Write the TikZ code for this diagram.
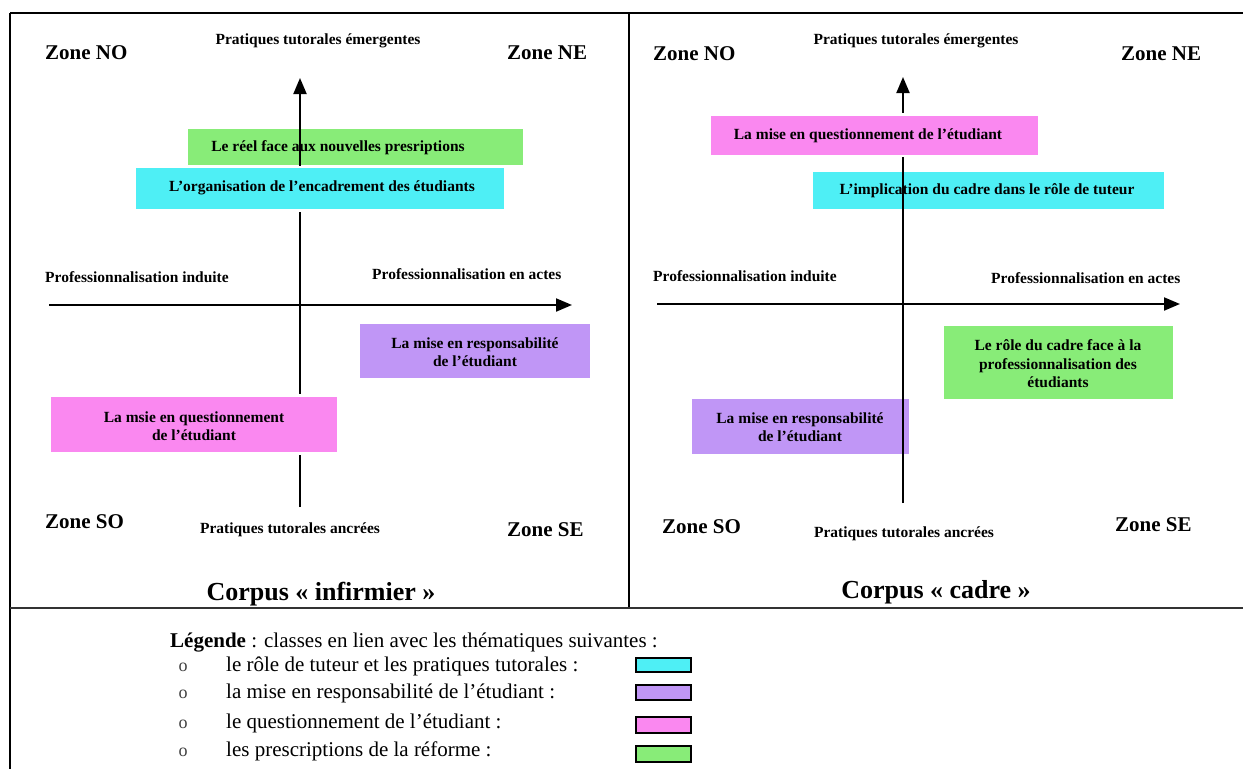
\documentclass[tikz,border=0pt]{standalone}
\usepackage{fontspec}
\setmainfont{Liberation Serif}
\usetikzlibrary{arrows.meta}
\definecolor{cgreen}{HTML}{88EC78}
\definecolor{ccyan}{HTML}{4EEFF5}
\definecolor{cpurple}{HTML}{C096F6}
\definecolor{cpink}{HTML}{FA88F0}
\begin{document}
\begin{tikzpicture}[x=1pt,y=-1pt,
  zone/.style={font=\fontsize{21}{24}\selectfont\bfseries, inner sep=0pt, anchor=base west},
  axlabel/.style={font=\fontsize{15.5}{18}\selectfont\bfseries, inner sep=0pt},
  boxtext/.style={font=\fontsize{15.5}{18.5}\selectfont\bfseries, inner sep=0pt, align=center},
  corpus/.style={font=\fontsize{26}{30}\selectfont\bfseries, inner sep=0pt, anchor=base},
  axis/.style={line width=2pt, -{Triangle[length=16pt,width=13pt]}},
  legtext/.style={font=\fontsize{21}{24}\selectfont, inner sep=0pt, anchor=base west},
  bullet/.style={font=\fontsize{18}{20}\selectfont, text=black!75, inner sep=0pt, anchor=base},
  swatch/.style={draw=black, line width=2pt},
  frame/.style={line width=2.5pt, black}]
\useasboundingbox (0,0) rectangle (1243,769);
\fill[white] (0,0) rectangle (1243,769);
% frame
\draw[frame] (10,13) -- (1243,13);
\draw[frame] (10,13) -- (10,769);
\draw[line width=1.5pt] (629,13) -- (629,608);
\draw[line width=2pt, black!80] (10,608) -- (1243,608);

% ---------- left panel ----------
\node[zone] (lno) at (45,59) {Zone NO};
\node[zone] (lne) at (507,59) {Zone NE};
\node[zone] (lso) at (45,528) {Zone SO};
\node[zone] (lse) at (507,536) {Zone SE};
\node[axlabel, anchor=base] (ltop) at (318,44) {Pratiques tutorales émergentes};
\node[axlabel, anchor=base] (lbot) at (290,533) {Pratiques tutorales ancrées};
\node[axlabel, anchor=base west] (lleft) at (45,282) {Professionnalisation induite};
\node[axlabel, anchor=base west] (lright) at (372,279) {Professionnalisation en actes};

\fill[cgreen] (188,129) rectangle (523,165);
\coordinate (lvb) at (300,507);
\coordinate (lvt) at (300,78);
\coordinate (lhl) at (49,305);
\coordinate (lhr) at (572,305);
\draw[axis] (lvb) -- (lvt);
\draw[axis] (lhl) -- (lhr);
\node[boxtext] (lg) at (338,148) {Le réel face aux nouvelles presriptions};
\fill[white] (133,166) rectangle (507,212);
\fill[ccyan] (136,168) rectangle (504,209);
\node[boxtext] (lc) at (322,188) {L’organisation de l’encadrement des étudiants};
\fill[cpurple] (360,324) rectangle (590,378);
\node[boxtext] (lp) at (475,352) {La mise en responsabilité\\de l’étudiant};
\fill[white] (48,394) rectangle (340,455);
\fill[cpink] (51,397) rectangle (337,452);
\node[boxtext] (lk) at (194,426) {La msie en questionnement\\de l’étudiant};
\node[corpus] (lcorp) at (321,600) {Corpus « infirmier »};

% ---------- right panel ----------
\node[zone] (rno) at (653,60) {Zone NO};
\node[zone] (rne) at (1121,60) {Zone NE};
\node[zone] (rso) at (662,533) {Zone SO};
\node[zone] (rse) at (1115,531) {Zone SE};
\node[axlabel, anchor=base] (rtop) at (916,44) {Pratiques tutorales émergentes};
\node[axlabel, anchor=base] (rbot) at (904,537) {Pratiques tutorales ancrées};
\node[axlabel, anchor=base west] (rleft) at (653,281) {Professionnalisation induite};
\node[axlabel, anchor=base west] (rright) at (991,283) {Professionnalisation en actes};

\fill[ccyan] (813,172) rectangle (1164,209);
\fill[cpurple] (692,399) rectangle (909,454);
\fill[cgreen] (944,326) rectangle (1173,399);
\coordinate (rvb) at (903,503);
\coordinate (rvt) at (903,77);
\coordinate (rhl) at (657,304);
\coordinate (rhr) at (1180,304);
\draw[axis] (rvb) -- (rvt);
\draw[axis] (rhl) -- (rhr);
\node[boxtext] (rc) at (987,191) {L’implication du cadre dans le rôle de tuteur};
\node[boxtext] (rp) at (800,427) {La mise en responsabilité\\de l’étudiant};
\node[boxtext] (rg) at (1058,364) {Le rôle du cadre face à la\\professionnalisation des\\étudiants};
\fill[white] (708,113) rectangle (1041,157);
\fill[cpink] (711,116) rectangle (1038,155);
\node[boxtext] (rk) at (868,136) {La mise en questionnement de l’étudiant};
\node[corpus] (rcorp) at (936,598) {Corpus « cadre »};

% ---------- legend ----------
\node[legtext] (leg) at (170,647) {\textbf{Légende} : classes en lien avec les thématiques suivantes :};
\foreach \yy/\txt [count=\i] in {671/{le rôle de tuteur et les pratiques tutorales :},
  698/{la mise en responsabilité de l’étudiant :},
  728/{le questionnement de l’étudiant :},
  756/{les prescriptions de la réforme :}}{
  \node[bullet] (bul\i) at (183,\yy) {o};
  \node[legtext] (item\i) at (226,\yy) {\txt};
}
\filldraw[swatch, fill=ccyan] (636,658) rectangle (691,672);
\filldraw[swatch, fill=cpurple] (636,685) rectangle (691,700);
\filldraw[swatch, fill=cpink] (636,717) rectangle (691,733);
\filldraw[swatch, fill=cgreen] (636,746) rectangle (691,762);
\end{tikzpicture}
\end{document}
